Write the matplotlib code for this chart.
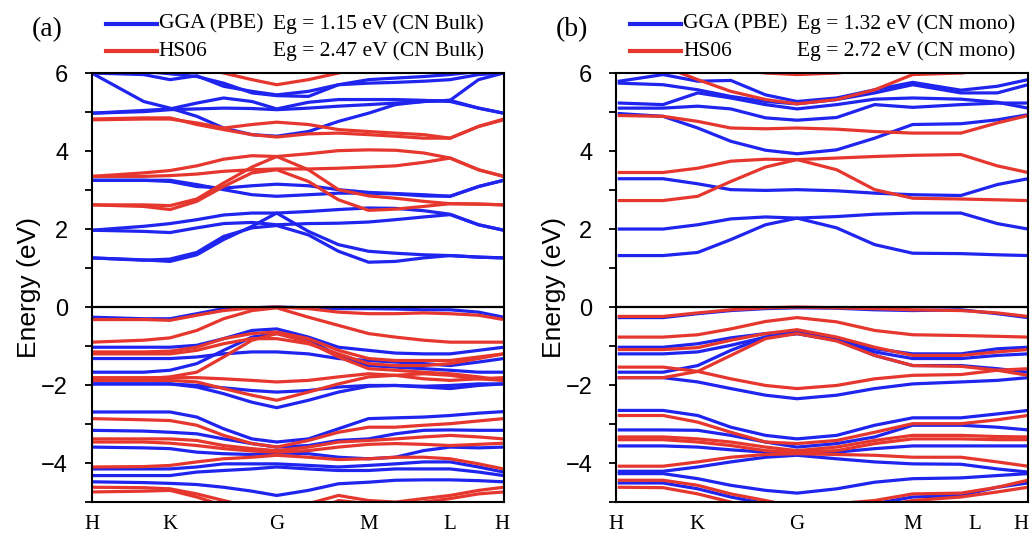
import matplotlib

matplotlib.use("agg")

import matplotlib.pyplot as plt
from matplotlib.lines import Line2D

BLUE = "#1f24ee"
RED = "#e6372e"
SERIF = "Liberation Serif"
SANS = "Liberation Sans"

# k-path positions (fraction of the path) where the bands were read
kx_bulk = [0, 0.126, 0.19, 0.255, 0.32, 0.389, 0.449, 0.526, 0.599, 0.672, 0.737, 0.806, 0.87, 0.939, 1.0]
kx_mono = [0, 0.107, 0.192, 0.273, 0.358, 0.435, 0.532, 0.625, 0.718, 0.836, 0.925, 1.0]

ticks_bulk = [0, 0.19, 0.449, 0.672, 0.87, 0.995]
ticks_mono = [-0.008, 0.19, 0.435, 0.718, 0.871, 0.984]
tick_labels = ["H", "K", "G", "M", "L", "H"]

# (a) CN bulk, GGA (PBE) bands in eV
pbe_bulk = [
    [1.26, 1.21, 1.17, 1.34, 1.73, 2.07, 2.41, 1.94, 1.60, 1.43, 1.38, 1.34, 1.32, 1.28, 1.26],
    [1.26, 1.20, 1.23, 1.40, 1.81, 2.03, 2.09, 1.85, 1.43, 1.15, 1.17, 1.26, 1.32, 1.28, 1.26],
    [1.97, 2.07, 2.14, 2.24, 2.36, 2.41, 2.41, 2.45, 2.50, 2.54, 2.53, 2.47, 2.38, 2.11, 1.97],
    [1.97, 1.94, 1.91, 2.03, 2.14, 2.17, 2.11, 2.14, 2.15, 2.18, 2.24, 2.31, 2.37, 2.11, 1.97],
    [3.25, 3.25, 3.25, 3.14, 3.01, 2.88, 2.84, 2.88, 2.92, 2.92, 2.90, 2.85, 2.84, 3.09, 3.25],
    [3.25, 3.25, 3.22, 3.09, 3.05, 3.11, 3.15, 3.11, 3.01, 2.94, 2.91, 2.88, 2.84, 3.09, 3.25],
    [4.97, 5.04, 5.08, 5.23, 5.36, 5.27, 5.08, 5.25, 5.32, 5.32, 5.32, 5.30, 5.27, 5.10, 4.97],
    [4.97, 5.01, 5.06, 5.08, 5.10, 5.09, 5.06, 5.10, 5.15, 5.19, 5.23, 5.27, 5.30, 5.10, 4.97],
    [6.00, 5.27, 5.10, 4.89, 4.59, 4.42, 4.38, 4.50, 4.76, 4.97, 5.19, 5.27, 5.30, 5.83, 6.00],
    [6.00, 5.96, 5.83, 5.93, 5.66, 5.53, 5.44, 5.53, 5.70, 5.74, 5.76, 5.79, 5.83, 5.96, 6.00],
    [6.09, 6.04, 5.98, 5.91, 5.74, 5.49, 5.42, 5.40, 5.70, 5.83, 5.87, 5.91, 5.96, 6.04, 6.09],
    [-0.26, -0.30, -0.30, -0.17, -0.04, -0.02, 0.00, -0.02, -0.04, -0.04, -0.05, -0.07, -0.07, -0.13, -0.26],
    [-1.03, -1.03, -1.03, -0.98, -0.81, -0.60, -0.56, -0.77, -1.03, -1.11, -1.18, -1.20, -1.20, -1.11, -1.03],
    [-1.32, -1.32, -1.32, -1.28, -1.20, -1.15, -1.15, -1.20, -1.32, -1.37, -1.41, -1.45, -1.50, -1.41, -1.32],
    [-1.67, -1.67, -1.62, -1.45, -1.11, -0.77, -0.68, -0.85, -1.24, -1.50, -1.54, -1.58, -1.62, -1.67, -1.67],
    [-1.97, -1.97, -1.97, -2.05, -2.22, -2.44, -2.58, -2.39, -2.18, -2.03, -2.01, -2.05, -2.09, -2.01, -1.97],
    [-1.97, -1.97, -1.97, -2.01, -2.07, -2.14, -2.18, -2.14, -2.05, -2.01, -2.01, -2.03, -2.01, -1.97, -1.97],
    [-2.69, -2.69, -2.69, -2.82, -3.12, -3.38, -3.46, -3.38, -3.12, -2.86, -2.84, -2.82, -2.78, -2.72, -2.68],
    [-3.16, -3.18, -3.21, -3.25, -3.38, -3.50, -3.59, -3.55, -3.42, -3.38, -3.25, -3.16, -3.15, -3.16, -3.16],
    [-3.59, -3.61, -3.63, -3.72, -3.76, -3.78, -3.74, -3.76, -3.85, -3.89, -3.85, -3.68, -3.59, -3.61, -3.59],
    [-4.15, -4.15, -4.15, -4.10, -4.02, -4.02, -4.02, -4.06, -4.10, -4.06, -4.02, -3.97, -3.97, -4.10, -4.23],
    [-4.32, -4.32, -4.32, -4.23, -4.19, -4.15, -4.10, -4.15, -4.19, -4.19, -4.15, -4.15, -4.15, -4.23, -4.32],
    [-4.48, -4.50, -4.52, -4.55, -4.62, -4.72, -4.83, -4.70, -4.53, -4.49, -4.44, -4.43, -4.43, -4.45, -4.48],
]

# (a) CN bulk, HSE06 bands in eV
hse_bulk = [
    [2.62, 2.58, 2.50, 2.71, 3.09, 3.44, 3.52, 3.22, 2.75, 2.48, 2.51, 2.58, 2.65, 2.64, 2.62],
    [2.62, 2.62, 2.60, 2.77, 3.18, 3.59, 3.86, 3.52, 3.01, 2.85, 2.79, 2.71, 2.65, 2.64, 2.62],
    [3.35, 3.44, 3.50, 3.62, 3.79, 3.88, 3.86, 3.93, 4.01, 4.03, 4.02, 3.95, 3.82, 3.52, 3.35],
    [3.35, 3.35, 3.37, 3.41, 3.48, 3.52, 3.54, 3.54, 3.56, 3.59, 3.62, 3.71, 3.82, 3.52, 3.35],
    [4.82, 4.85, 4.85, 4.68, 4.55, 4.42, 4.36, 4.44, 4.46, 4.42, 4.38, 4.33, 4.33, 4.63, 4.82],
    [4.80, 4.82, 4.82, 4.72, 4.59, 4.68, 4.74, 4.68, 4.55, 4.50, 4.46, 4.42, 4.33, 4.63, 4.80],
    [6.51, 6.43, 6.34, 6.17, 6.00, 5.83, 5.70, 5.83, 6.00, 6.17, 6.34, 6.43, 6.51, 6.60, 6.68],
    [-0.32, -0.32, -0.34, -0.21, -0.09, -0.02, 0.00, -0.04, -0.13, -0.17, -0.17, -0.15, -0.17, -0.21, -0.32],
    [-0.90, -0.85, -0.79, -0.60, -0.30, -0.09, -0.02, -0.26, -0.47, -0.68, -0.77, -0.85, -0.90, -0.90, -0.90],
    [-1.15, -1.15, -1.13, -1.03, -0.81, -0.68, -0.64, -0.81, -1.11, -1.32, -1.37, -1.37, -1.37, -1.28, -1.20],
    [-1.20, -1.20, -1.20, -1.11, -0.94, -0.81, -0.81, -0.94, -1.20, -1.45, -1.50, -1.50, -1.45, -1.32, -1.20],
    [-1.88, -1.84, -1.79, -1.67, -1.28, -0.85, -0.68, -0.90, -1.28, -1.58, -1.62, -1.67, -1.71, -1.79, -1.88],
    [-1.81, -1.81, -1.81, -1.81, -1.84, -1.88, -1.92, -1.88, -1.79, -1.71, -1.75, -1.84, -1.88, -1.84, -1.81],
    [-1.88, -1.88, -1.88, -1.92, -2.09, -2.26, -2.39, -2.18, -1.97, -1.79, -1.75, -1.71, -1.75, -1.84, -1.88],
    [-2.86, -2.89, -2.91, -3.03, -3.29, -3.50, -3.59, -3.42, -3.21, -3.08, -3.08, -3.03, -2.99, -2.92, -2.86],
    [-3.38, -3.38, -3.38, -3.42, -3.55, -3.63, -3.68, -3.59, -3.46, -3.42, -3.38, -3.33, -3.29, -3.33, -3.38],
    [-3.46, -3.46, -3.49, -3.55, -3.63, -3.69, -3.72, -3.68, -3.59, -3.52, -3.50, -3.52, -3.55, -3.52, -3.49],
    [-4.10, -4.09, -4.06, -3.97, -3.89, -3.85, -3.80, -3.85, -3.91, -3.89, -3.85, -3.85, -3.89, -4.02, -4.15],
    [-4.62, -4.63, -4.66, -4.79, -4.96, -5.13, -5.30, -5.04, -4.83, -4.96, -5.00, -4.91, -4.83, -4.70, -4.62],
    [-4.74, -4.72, -4.70, -4.87, -5.09, -5.30, -5.47, -5.30, -4.96, -5.04, -5.06, -5.00, -4.91, -4.79, -4.74],
]

# (b) CN monolayer, GGA (PBE) bands in eV
pbe_mono = [
    [1.32, 1.32, 1.40, 1.73, 2.11, 2.28, 2.03, 1.60, 1.38, 1.37, 1.34, 1.32],
    [2.00, 2.00, 2.11, 2.26, 2.31, 2.28, 2.32, 2.38, 2.41, 2.41, 2.14, 2.00],
    [3.29, 3.29, 3.16, 3.01, 2.99, 3.01, 2.98, 2.92, 2.88, 2.86, 3.14, 3.29],
    [4.96, 4.89, 4.59, 4.25, 4.02, 3.93, 4.03, 4.33, 4.68, 4.70, 4.80, 4.93],
    [5.10, 5.10, 5.15, 5.08, 4.85, 4.79, 4.86, 5.19, 5.12, 5.19, 5.23, 5.23],
    [5.23, 5.19, 5.49, 5.36, 5.19, 5.08, 5.19, 5.33, 5.36, 5.33, 5.25, 5.10],
    [5.74, 5.70, 5.57, 5.40, 5.27, 5.21, 5.32, 5.49, 5.70, 5.49, 5.49, 5.70],
    [5.79, 5.96, 5.79, 5.81, 5.44, 5.27, 5.36, 5.57, 5.76, 5.56, 5.66, 5.83],
    [-0.27, -0.27, -0.17, -0.09, -0.04, -0.02, -0.03, -0.07, -0.09, -0.07, -0.17, -0.27],
    [-1.03, -1.03, -0.94, -0.79, -0.68, -0.64, -0.81, -1.07, -1.20, -1.20, -1.07, -1.03],
    [-1.20, -1.20, -1.15, -0.98, -0.77, -0.68, -0.85, -1.15, -1.32, -1.32, -1.24, -1.20],
    [-1.67, -1.67, -1.50, -1.11, -0.77, -0.68, -0.85, -1.24, -1.50, -1.50, -1.58, -1.67],
    [-1.81, -1.81, -1.92, -2.09, -2.26, -2.35, -2.26, -2.09, -1.97, -1.92, -1.88, -1.81],
    [-2.65, -2.65, -2.78, -3.08, -3.29, -3.38, -3.29, -3.03, -2.84, -2.84, -2.74, -2.65],
    [-3.15, -3.15, -3.16, -3.29, -3.46, -3.59, -3.50, -3.33, -3.03, -3.03, -3.08, -3.15],
    [-3.56, -3.56, -3.59, -3.66, -3.72, -3.76, -3.72, -3.63, -3.56, -3.56, -3.56, -3.56],
    [-4.21, -4.21, -4.10, -3.97, -3.85, -3.80, -3.89, -3.97, -4.02, -4.03, -4.15, -4.23],
    [-4.27, -4.27, -4.40, -4.57, -4.70, -4.77, -4.66, -4.49, -4.40, -4.38, -4.32, -4.27],
    [-4.51, -4.51, -4.66, -4.87, -5.04, -5.21, -5.17, -5.04, -4.87, -4.83, -4.62, -4.51],
]

# (b) CN monolayer, HSE06 bands in eV
hse_mono = [
    [2.73, 2.73, 2.84, 3.22, 3.59, 3.78, 3.52, 3.01, 2.79, 2.77, 2.75, 2.73],
    [3.45, 3.45, 3.56, 3.74, 3.79, 3.78, 3.82, 3.86, 3.89, 3.91, 3.62, 3.45],
    [4.91, 4.89, 4.76, 4.59, 4.57, 4.59, 4.56, 4.50, 4.46, 4.46, 4.72, 4.91],
    [6.34, 6.17, 5.83, 5.53, 5.32, 5.21, 5.32, 5.57, 5.96, 6.00, 6.09, 6.17],
    [6.43, 6.38, 6.26, 6.09, 6.00, 5.96, 6.00, 6.09, 6.26, 6.34, 6.38, 6.43],
    [-0.24, -0.24, -0.15, -0.07, -0.02, 0.00, -0.02, -0.04, -0.07, -0.09, -0.15, -0.24],
    [-0.77, -0.77, -0.71, -0.56, -0.37, -0.27, -0.38, -0.60, -0.71, -0.73, -0.75, -0.77],
    [-1.09, -1.09, -1.04, -0.85, -0.68, -0.58, -0.77, -1.03, -1.24, -1.24, -1.15, -1.09],
    [-1.81, -1.81, -1.65, -1.24, -0.81, -0.68, -0.87, -1.24, -1.50, -1.52, -1.62, -1.75],
    [-1.54, -1.54, -1.65, -1.84, -2.01, -2.09, -2.01, -1.84, -1.75, -1.73, -1.62, -1.58],
    [-2.78, -2.78, -2.95, -3.21, -3.46, -3.50, -3.42, -3.21, -2.99, -2.99, -2.89, -2.78],
    [-3.33, -3.33, -3.38, -3.46, -3.59, -3.68, -3.59, -3.42, -3.29, -3.29, -3.32, -3.33],
    [-3.40, -3.40, -3.46, -3.55, -3.68, -3.72, -3.68, -3.50, -3.38, -3.38, -3.40, -3.40],
    [-4.08, -4.08, -3.97, -3.85, -3.78, -3.76, -3.78, -3.80, -3.85, -3.85, -3.97, -4.08],
    [-4.44, -4.44, -4.57, -4.79, -4.96, -5.13, -5.04, -4.96, -4.79, -4.77, -4.62, -4.44],
    [-4.62, -4.63, -4.79, -5.00, -5.21, -5.38, -5.30, -5.13, -4.96, -4.87, -4.74, -4.62],
]

panels = [
    ("(a)", kx_bulk, ticks_bulk, pbe_bulk, hse_bulk, "1.15", "2.47", "CN Bulk"),
    ("(b)", kx_mono, ticks_mono, pbe_mono, hse_mono, "1.32", "2.72", "CN mono"),
]

fig = plt.figure(figsize=(10.31, 5.33), dpi=100)
lefts = [0.089, 0.5975]
W, H = 1031, 533

for left, (tag, kx, ticks, pbe, hse, eg_pbe, eg_hse, name) in zip(lefts, panels):
    ax = fig.add_axes([left, 0.058, 0.3995, 0.805])
    for band in pbe:
        ax.plot(kx, band, color=BLUE, lw=2.3, solid_joinstyle="round")
    for band in hse:
        ax.plot(kx, band, color=RED, lw=2.3, solid_joinstyle="round")
    ax.axhline(0, color="black", lw=1.6)

    ax.set_xlim(0, 1)
    ax.set_ylim(-5, 6)
    ax.set_yticks([-4, -2, 0, 2, 4, 6])
    ax.set_yticks([-5, -3, -1, 1, 3, 5], minor=True)
    ax.tick_params(axis="y", which="both", direction="out", length=5, width=1.3, pad=12)
    for lab in ax.get_yticklabels():
        lab.set_fontfamily(SANS)
        lab.set_fontsize(17)
    ax.set_xticks(ticks)
    ax.set_xticklabels(tick_labels, fontfamily=SERIF, fontsize=15)
    ax.tick_params(axis="x", length=0, pad=9)
    ax.set_ylabel("Energy (eV)", fontfamily=SANS, fontsize=19, labelpad=0)
    for sp in ax.spines.values():
        sp.set_linewidth(1.5)

    # legend block above the panel
    x0 = left * W - 60
    fig.text(x0 / W, 1 - 30 / H, tag, fontfamily=SERIF, fontsize=20, va="center")
    for yy, col, lab, eg in [(24, BLUE, "GGA (PBE)", eg_pbe), (51, RED, "HS06", eg_hse)]:
        fig.add_artist(Line2D([(x0 + 74) / W, (x0 + 125) / W], [1 - yy / H, 1 - yy / H],
                              color=col, lw=3, transform=fig.transFigure))
        fig.text((x0 + 127) / W, 1 - yy / H, lab, fontfamily=SERIF, fontsize=15.5, va="center")
        fig.text((x0 + 241) / W, 1 - yy / H, f"Eg = {eg} eV ({name})",
                 fontfamily=SERIF, fontsize=15.5, va="center")

fig.savefig("out.png", dpi=100)
